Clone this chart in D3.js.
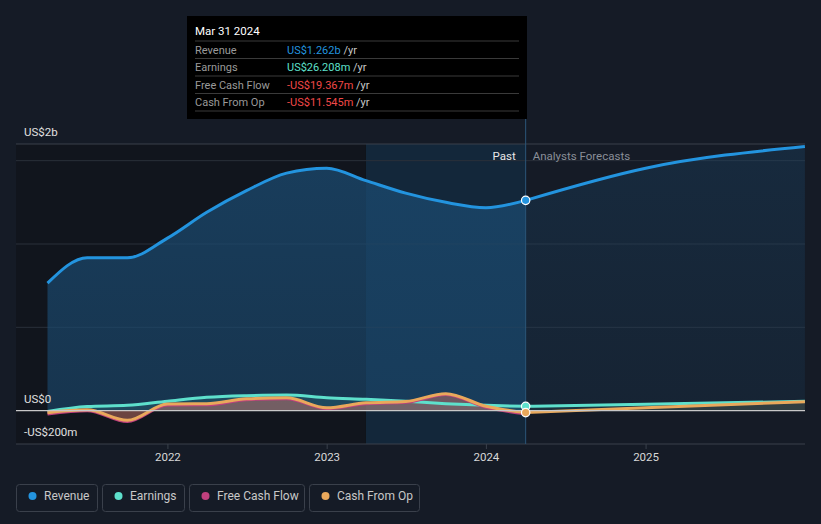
<!DOCTYPE html>
<html><head><meta charset="utf-8">
<script src="https://cdn.jsdelivr.net/npm/d3@7"></script>
<style>
html,body{margin:0;padding:0;background:#151b26;}
svg{display:block;font-family:Roboto,"Noto Sans",sans-serif;}
</style></head>
<body><svg id="c" width="821" height="524"></svg>
<script>
// ---- data (values in US$ billions) ----
const histDates = ["2021-03-31","2021-06-30","2021-09-30","2021-12-31","2022-03-31","2022-06-30","2022-09-30","2022-12-31","2023-03-31","2023-06-30","2023-09-30","2023-12-31","2024-03-31"];
const revenueHist = [0.765,0.918,0.917,1.035,1.19,1.32,1.425,1.455,1.38,1.305,1.25,1.218,1.262];
const earningsHist = [-0.005,0.025,0.032,0.057,0.08,0.09,0.094,0.078,0.068,0.056,0.042,0.032,0.026];
const fcfHist = [-0.02,0.0,-0.065,0.034,0.035,0.066,0.072,0.012,0.042,0.05,0.097,0.02,-0.019];
const cfoHist = [-0.012,0.005,-0.058,0.04,0.042,0.071,0.077,0.017,0.047,0.055,0.102,0.026,-0.0115];
const fcDates = ["2024-03-31","2024-12-31","2025-12-31"];
const revenueFc = [1.262,1.455,1.585];
const earningsFc = [0.026,0.038,0.056];
const cfoFc = [-0.0115,0.018,0.054];
const xTicks = ["2022","2023","2024","2025"];
const yLabels = [{v:1.6,t:"US$2b"},{v:0,t:"US$0"},{v:-0.2,t:"-US$200m"}];
const gridVals = [1.6,1.5,1.0,0.5];
const tooltipRows = [
  {label:"Revenue", value:"US$1.262b", color:"#2394df"},
  {label:"Earnings", value:"US$26.208m", color:"#5ee0cc"},
  {label:"Free Cash Flow", value:"-US$19.367m", color:"#f04848"},
  {label:"Cash From Op", value:"-US$11.545m", color:"#f04848"}
];
const legendItems = [
  {label:"Revenue", color:"#2394df"},
  {label:"Earnings", color:"#5ee0cc"},
  {label:"Free Cash Flow", color:"#c0407e"},
  {label:"Cash From Op", color:"#e9a85b"}
];

const P = d3.timeParse("%Y-%m-%d");
const svg = d3.select("#c");
const x = d3.scaleTime().domain([new Date(2021,0,1), new Date(2026,0,1)]).range([8.67, 805.33]);
const y = d3.scaleLinear().domain([-0.2, 1.6]).range([444, 144]);
const L = 16, R = 805, T = 144, B = 444;

const mk = (dates, vals) => dates.map((d,i)=>({d:P(d), v:vals[i]}));
const rev = mk(histDates, revenueHist), revF = mk(fcDates, revenueFc);
const ear = mk(histDates, earningsHist), earF = mk(fcDates, earningsFc);
const fcf = mk(histDates, fcfHist);
const cfo = mk(histDates, cfoHist), cfoF = mk(fcDates, cfoFc);
const split = P("2024-03-31"), lastYear = P("2023-03-31");

const defs = svg.append("defs");
const g1 = defs.append("linearGradient").attr("id","revPast").attr("x1",0).attr("y1",0).attr("x2",0).attr("y2",1);
g1.append("stop").attr("offset","0%").attr("stop-color","#1b4a70").attr("stop-opacity",0.75);
g1.append("stop").attr("offset","100%").attr("stop-color","#1b4a70").attr("stop-opacity",0.6);
const g2 = defs.append("linearGradient").attr("id","revFc").attr("x1",0).attr("y1",0).attr("x2",0).attr("y2",1);
g2.append("stop").attr("offset","0%").attr("stop-color","#1b4a70").attr("stop-opacity",0.32);
g2.append("stop").attr("offset","100%").attr("stop-color","#1b4a70").attr("stop-opacity",0.18);

// backgrounds
svg.append("rect").attr("x",L).attr("y",T).attr("width",x(lastYear)-L).attr("height",B-T).attr("fill","#10141b").attr("opacity",0.75);
svg.append("rect").attr("x",x(lastYear)).attr("y",T).attr("width",x(split)-x(lastYear)).attr("height",B-T).attr("fill","#13314b").attr("opacity",0.55);

// grid
svg.selectAll("line.grid").data(gridVals).enter().append("line")
  .attr("x1",L).attr("x2",R).attr("y1",d=>y(d)).attr("y2",d=>y(d))
  .attr("stroke", d=>d===1.6?"#3a404b":"#2a303a").attr("stroke-width",1);
svg.append("line").attr("x1",L).attr("x2",R).attr("y1",B).attr("y2",B).attr("stroke","#3a404b");

const curve = d3.curveMonotoneX;
const area = d3.area().x(d=>x(d.d)).y0(y(0)).y1(d=>y(d.v)).curve(curve);
const line = d3.line().x(d=>x(d.d)).y(d=>y(d.v)).curve(curve);

// revenue
svg.append("path").attr("d",area(rev)).attr("fill","url(#revPast)");
svg.append("path").attr("d",area(revF)).attr("fill","url(#revFc)");

// small series areas
svg.append("path").attr("d",area(ear)).attr("fill","#5ee0cc").attr("opacity",0.12);
svg.append("path").attr("d",area(earF)).attr("fill","#5ee0cc").attr("opacity",0.08);
svg.append("path").attr("d",area(fcf)).attr("fill","#c0407e").attr("opacity",0.28);
svg.append("path").attr("d",area(cfo)).attr("fill","#e9a85b").attr("opacity",0.26);
svg.append("path").attr("d",area(cfoF)).attr("fill","#e9a85b").attr("opacity",0.1);

// lines
svg.append("path").attr("d",line(rev)).attr("fill","none").attr("stroke","#2394df").attr("stroke-width",3);
svg.append("path").attr("d",line(revF)).attr("fill","none").attr("stroke","#2394df").attr("stroke-width",3);
svg.append("path").attr("d",line(ear)).attr("fill","none").attr("stroke","#5ee0cc").attr("stroke-width",3);
svg.append("path").attr("d",line(earF)).attr("fill","none").attr("stroke","#5ee0cc").attr("stroke-width",3);
svg.append("path").attr("d",line(fcf)).attr("fill","none").attr("stroke","#c0407e").attr("stroke-width",3);
svg.append("path").attr("d",line(cfo)).attr("fill","none").attr("stroke","#e9a85b").attr("stroke-width",3);
svg.append("path").attr("d",line(cfoF)).attr("fill","none").attr("stroke","#e9a85b").attr("stroke-width",3);

// zero line
svg.append("line").attr("x1",L).attr("x2",R).attr("y1",y(0)).attr("y2",y(0)).attr("stroke","#c8c8c8").attr("stroke-width",1.2);

// x ticks
xTicks.forEach(t=>{
  const xx = x(new Date(+t,0,1));
  svg.append("line").attr("x1",xx).attr("x2",xx).attr("y1",B).attr("y2",B+5).attr("stroke","#3a404b");
  svg.append("text").attr("x",xx).attr("y",461).attr("text-anchor","middle").attr("fill","#d8d8d8").attr("font-size",11.5).text(t);
});
// y labels
yLabels.forEach(o=>{
  svg.append("text").attr("x",24).attr("y",y(o.v)-8).attr("fill","#e0e0e0").attr("font-size",11.5).text(o.t);
});

// divider
svg.append("line").attr("x1",x(split)).attr("x2",x(split)).attr("y1",16).attr("y2",B).attr("stroke","#2b5678").attr("stroke-width",1);
svg.append("text").attr("x",x(split)-10).attr("y",160).attr("text-anchor","end").attr("fill","#e8e8e8").attr("font-size",11.5).text("Past");
svg.append("text").attr("x",x(split)+7).attr("y",160).attr("fill","#8a8f98").attr("font-size",11.5).text("Analysts Forecasts");

// dots
[[revenueHist[12],"#2394df"],[earningsHist[12],"#5ee0cc"],[cfoHist[12],"#e9a85b"]].forEach(([v,c])=>{
  svg.append("circle").attr("cx",x(split)).attr("cy",y(v)).attr("r",4.2).attr("fill",c).attr("stroke","#fff").attr("stroke-width",1.2);
});

// tooltip
const tt = svg.append("g");
tt.append("rect").attr("x",187).attr("y",16).attr("width",340).attr("height",103).attr("fill","#000");
tt.append("text").attr("x",195).attr("y",35).attr("fill","#fff").attr("font-size",11.5).text("Mar 31 2024");
[41,58.5,76,93.5,111].forEach(yy=>tt.append("line").attr("x1",195).attr("x2",519).attr("y1",yy).attr("y2",yy).attr("stroke","#3a3a3a"));
tooltipRows.forEach((r,i)=>{
  const yy = 53.5 + i*17.5;
  tt.append("text").attr("x",195).attr("y",yy).attr("fill","#9a9a9a").attr("font-size",11).text(r.label);
  const t = tt.append("text").attr("x",287).attr("y",yy).attr("font-size",11);
  t.append("tspan").attr("fill",r.color).text(r.value);
  t.append("tspan").attr("fill","#c8c8c8").text(" /yr");
});

// legend
const widths = [81,82,115,110];
let lx = 16;
legendItems.forEach((it,i)=>{
  const g = svg.append("g").attr("transform",`translate(${lx},484)`);
  g.append("rect").attr("x",0.5).attr("y",0.5).attr("width",widths[i]).attr("height",27).attr("rx",3).attr("fill","none").attr("stroke","#3a404b");
  g.append("circle").attr("cx",16.5).attr("cy",12).attr("r",4).attr("fill",it.color);
  g.append("text").attr("x",28).attr("y",16).attr("fill","#c8c8c8").attr("font-size",12).text(it.label);
  lx += widths[i] + 5;
});
</script></body></html>
